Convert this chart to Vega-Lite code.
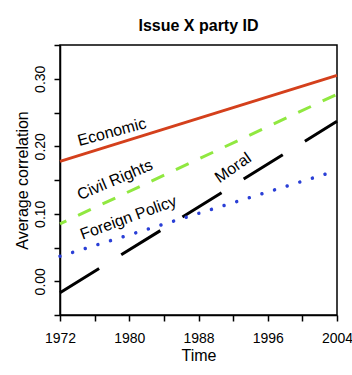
{
  "$schema": "https://vega.github.io/schema/vega-lite/v6.json",
  "width": 277,
  "height": 270,
  "autosize": "none",
  "padding": {"left": 60, "top": 45, "right": 15, "bottom": 60},
  "background": "white",
  "title": {"text": "Issue X party ID", "font": "Liberation Sans", "fontSize": 16, "fontWeight": "bold", "color": "black", "offset": 10, "anchor": "middle"},
  "config": {
    "view": {"stroke": "black", "strokeWidth": 1.5},
    "axis": {"grid": false, "domainColor": "black", "domainWidth": 1.5, "tickColor": "black", "tickWidth": 1.5, "tickSize": 6, "labelFont": "Liberation Sans", "labelFontSize": 14, "labelColor": "black", "titleFont": "Liberation Sans", "titleFontSize": 16, "titleFontWeight": "normal", "titleColor": "black"}
  },
  "datasets": {
    "lines": [
      {"series": "Economic", "year": 1972, "value": 0.1775},
      {"series": "Economic", "year": 2004, "value": 0.305},
      {"series": "Civil Rights", "year": 1972, "value": 0.085},
      {"series": "Civil Rights", "year": 2004, "value": 0.277},
      {"series": "Moral", "year": 1972, "value": -0.017},
      {"series": "Moral", "year": 2004, "value": 0.237},
      {"series": "Foreign Policy", "year": 1972, "value": 0.037},
      {"series": "Foreign Policy", "year": 2004, "value": 0.164}
    ],
    "labels": [
      {"label": "Economic", "year": 1978.0, "value": 0.221},
      {"label": "Civil Rights", "year": 1978.35, "value": 0.150},
      {"label": "Foreign Policy", "year": 1979.9, "value": 0.094},
      {"label": "Moral", "year": 1992.0, "value": 0.168}
    ]
  },
  "encoding": {
    "x": {"field": "year", "type": "quantitative", "title": "Time",
      "scale": {"domain": [1972, 2004], "nice": false, "zero": false},
      "axis": {"values": [1972, 1976, 1980, 1984, 1988, 1992, 1996, 2000, 2004], "format": "d", "labelExpr": "(datum.value - 1972) % 8 == 0 ? datum.label : ''", "labelPadding": 10, "titlePadding": 2, "labelFlush": false}},
    "y": {"field": "value", "type": "quantitative", "title": "Average correlation",
      "scale": {"domain": [-0.05, 0.35], "nice": false, "zero": false},
      "axis": {"values": [-0.05, 0, 0.05, 0.1, 0.15, 0.2, 0.25, 0.3, 0.35], "format": ".2f", "labelExpr": "(datum.value > -0.01 && datum.value < 0.31 && abs(round(datum.value * 100)) % 10 == 0) ? datum.label : ''", "labelAngle": -90, "labelAlign": "center", "labelBaseline": "bottom", "labelPadding": 7, "titlePadding": 3, "labelFlush": false}}
  },
  "layer": [
    {
      "data": {"name": "lines"},
      "transform": [{"filter": "datum.series == 'Economic'"}],
      "mark": {"type": "line", "color": "#d4401c", "strokeWidth": 3, "strokeCap": "butt"}
    },
    {
      "data": {"name": "lines"},
      "transform": [{"filter": "datum.series == 'Civil Rights'"}],
      "mark": {"type": "line", "color": "#90e840", "strokeWidth": 3, "strokeDash": [14, 13], "strokeDashOffset": 7, "strokeCap": "butt"}
    },
    {
      "data": {"name": "lines"},
      "transform": [{"filter": "datum.series == 'Moral'"}],
      "mark": {"type": "line", "color": "black", "strokeWidth": 3, "strokeDash": [46, 26], "strokeCap": "butt"}
    },
    {
      "data": {"name": "lines"},
      "transform": [{"filter": "datum.series == 'Foreign Policy'"}],
      "mark": {"type": "line", "color": "#2a3fd6", "strokeWidth": 3.5, "strokeDash": [0.01, 13.2], "strokeCap": "round"}
    },
    {
      "data": {"name": "labels"},
      "transform": [{"filter": "datum.label == 'Economic'"}],
      "mark": {"type": "text", "angle": 345, "font": "Liberation Sans", "fontSize": 16, "color": "black", "align": "center", "baseline": "middle"},
      "encoding": {"text": {"field": "label"}}
    },
    {
      "data": {"name": "labels"},
      "transform": [{"filter": "datum.label == 'Civil Rights'"}],
      "mark": {"type": "text", "angle": 337, "font": "Liberation Sans", "fontSize": 16, "color": "black", "align": "center", "baseline": "middle"},
      "encoding": {"text": {"field": "label"}}
    },
    {
      "data": {"name": "labels"},
      "transform": [{"filter": "datum.label == 'Foreign Policy'"}],
      "mark": {"type": "text", "angle": 340, "font": "Liberation Sans", "fontSize": 16, "color": "black", "align": "center", "baseline": "middle"},
      "encoding": {"text": {"field": "label"}}
    },
    {
      "data": {"name": "labels"},
      "transform": [{"filter": "datum.label == 'Moral'"}],
      "mark": {"type": "text", "angle": 325, "font": "Liberation Sans", "fontSize": 16, "color": "black", "align": "center", "baseline": "middle"},
      "encoding": {"text": {"field": "label"}}
    }
  ]
}
